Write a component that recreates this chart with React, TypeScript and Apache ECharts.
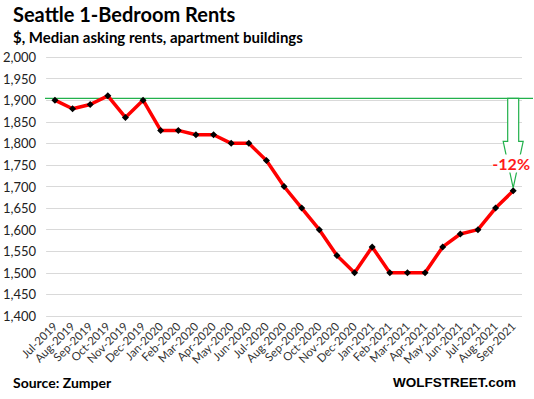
import React, { useEffect, useRef } from "react";
import * as echarts from "echarts";

const months = [
  "Jul-2019", "Aug-2019", "Sep-2019", "Oct-2019", "Nov-2019", "Dec-2019",
  "Jan-2020", "Feb-2020", "Mar-2020", "Apr-2020", "May-2020", "Jun-2020",
  "Jul-2020", "Aug-2020", "Sep-2020", "Oct-2020", "Nov-2020", "Dec-2020",
  "Jan-2021", "Feb-2021", "Mar-2021", "Apr-2021", "May-2021", "Jun-2021",
  "Jul-2021", "Aug-2021", "Sep-2021",
];
const rents = [
  1900, 1880, 1890, 1910, 1860, 1900, 1830, 1830, 1820, 1820, 1800, 1800,
  1760, 1700, 1650, 1600, 1540, 1500, 1560, 1500, 1500, 1500, 1560, 1590,
  1600, 1650, 1690,
];
const refLevel = 1904;
const changeLabel = "-12%";
const FONT = "Lato, 'Open Sans', sans-serif";

export default function App() {
  const ref = useRef<HTMLDivElement>(null);
  useEffect(() => {
    if (!ref.current) return;
    const chart = echarts.init(ref.current, null, { renderer: "svg" });
    chart.setOption({
      animation: false,
      backgroundColor: "#ffffff",
      textStyle: { fontFamily: FONT },
      grid: { left: 45, right: 12, top: 57, bottom: 83 },
      xAxis: {
        type: "category",
        data: months,
        boundaryGap: true,
        axisLine: { show: false },
        axisTick: { show: false },
        axisLabel: { rotate: 45, fontSize: 11.5, color: "#333", margin: 8, interval: 0, fontFamily: FONT },
      },
      yAxis: {
        type: "value",
        min: 1400,
        max: 2000,
        interval: 50,
        axisLine: { show: false },
        axisTick: { show: false },
        splitLine: { lineStyle: { color: "#d9d9d9", width: 1 } },
        axisLabel: {
          fontSize: 13,
          color: "#222",
          margin: 10,
          fontFamily: FONT,
          formatter: (v: number) => v.toLocaleString("en-US"),
        },
      },
      series: [
        {
          type: "line",
          data: rents,
          lineStyle: { color: "#ff0000", width: 3.5 },
          symbol: "diamond",
          symbolSize: 7,
          itemStyle: { color: "#000" },
          z: 3,
        },
      ],
    });

    const last = months.length - 1;
    const [, yRef] = chart.convertToPixel({ gridIndex: 0 }, [0, refLevel]) as number[];
    const [xEnd, yEnd] = chart.convertToPixel({ gridIndex: 0 }, [last, rents[last]]) as number[];
    const gridLeft = 45;
    const cx = xEnd;
    const shaftHalf = 5.5;
    const headHalf = 10;
    const headTop = yRef + 43;
    const tip = yEnd - 3;

    chart.setOption({
      graphic: [
        {
          type: "line",
          shape: { x1: gridLeft, y1: yRef, x2: 533, y2: yRef },
          style: { stroke: "#22b14c", lineWidth: 1.3 },
          z: 2,
        },
        {
          type: "polygon",
          shape: {
            points: [
              [cx - shaftHalf, yRef],
              [cx - shaftHalf, headTop],
              [cx - headHalf, headTop],
              [cx, tip],
              [cx + headHalf, headTop],
              [cx + shaftHalf, headTop],
              [cx + shaftHalf, yRef],
            ],
          },
          style: { fill: "#ffffff", stroke: "#22b14c", lineWidth: 1.2 },
          z: 4,
        },
        {
          type: "text",
          x: cx - 2,
          y: headTop + 22,
          style: {
            text: changeLabel,
            fill: "#ff1a1a",
            font: `bold 16px ${FONT}`,
            align: "center",
            verticalAlign: "middle",
            backgroundColor: "#ffffff",
            padding: [1, 0],
          },
          z: 5,
        },
        {
          type: "text",
          x: 13,
          y: 4,
          style: { text: "Seattle 1-Bedroom Rents", fill: "#000", font: `bold 20px ${FONT}`, align: "left", verticalAlign: "top" },
        },
        {
          type: "text",
          x: 13,
          y: 29,
          style: { text: "$, Median asking rents, apartment buildings", fill: "#000", font: `bold 15px ${FONT}`, align: "left", verticalAlign: "top" },
        },
        {
          type: "text",
          x: 13,
          y: 375,
          style: { text: "Source: Zumper", fill: "#000", font: `bold 14px ${FONT}`, align: "left", verticalAlign: "top" },
        },
        {
          type: "text",
          x: 516,
          y: 375,
          style: { text: "WOLFSTREET.com", fill: "#000", font: `bold 13.5px 'Liberation Sans', Arial, sans-serif`, align: "right", verticalAlign: "top" },
        },
      ],
    });
    return () => chart.dispose();
  }, []);
  return <div ref={ref} style={{ position: "absolute", left: 0, top: 0, width: 534, height: 399 }} />;
}
